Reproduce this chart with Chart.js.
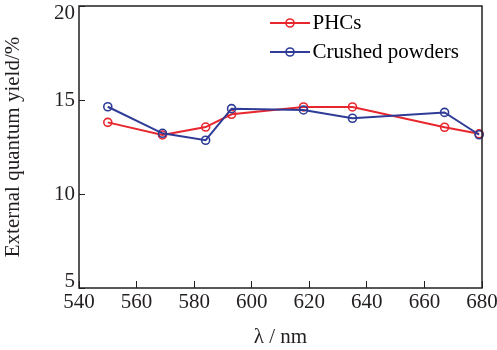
<!DOCTYPE html>
<html>
<head>
<meta charset="utf-8">
<script src="https://cdn.jsdelivr.net/npm/chart.js@4/dist/chart.umd.min.js"></script>
<style>
  body { margin: 0; background: #fff; }
</style>
</head>
<body>
<canvas id="myChart" width="497" height="350"></canvas>
<script>
// values
const wavelength = [550, 569, 584, 593, 618, 635, 667, 679];
const phcs = [13.81, 13.14, 13.56, 14.24, 14.63, 14.63, 13.55, 13.2];
const crushed = [14.64, 13.23, 12.86, 14.54, 14.47, 14.03, 14.34, 13.15];
const series_names = ['PHCs', 'Crushed powders'];
const x_ticks = [540, 560, 580, 600, 620, 640, 660, 680];
const y_ticks = [5, 10, 15, 20];

const red = '#e8262d';
const blue = '#2e3c97';
const ink = '#231f20';
const serif = 'Liberation Serif, DejaVu Serif, serif';

function toPoints(ys) {
    return wavelength.map((x, i) => ({x: x, y: ys[i]}));
}

// little line + circle mark for the legend
function legendMark(color) {
    const c = document.createElement('canvas');
    c.width = 48;
    c.height = 12;
    const g = c.getContext('2d');
    g.strokeStyle = color;
    g.lineWidth = 2;
    g.beginPath(); g.moveTo(8, 6); g.lineTo(48, 6); g.stroke();
    g.lineWidth = 1.6;
    g.beginPath(); g.arc(28, 6, 4, 0, Math.PI * 2); g.stroke();
    return c;
}

// box around the plot
const frame = {
    id: 'frame',
    afterDatasetsDraw(chart) {
        const a = chart.chartArea;
        const ctx = chart.ctx;
        ctx.save();
        ctx.strokeStyle = ink;
        ctx.lineWidth = 1.5;
        ctx.strokeRect(a.left, a.top, a.right - a.left, a.bottom - a.top);
        ctx.restore();
    }
};

// move the legend to the upper right of the plot
const legendPlace = {
    id: 'legendPlace',
    afterLayout(chart) {
        const lg = chart.legend;
        const w = lg.right - lg.left;
        lg.left = 262;
        lg.right = lg.left + w;
        lg.top = 4.5;
        lg.bottom = chart.chartArea.bottom;
        lg.height = lg.bottom - lg.top;
    }
};

const marks = [legendMark(red), legendMark(blue)];

var context = document.getElementById('myChart').getContext('2d');
var myChart = new Chart(context, {
    type: 'line',
    data: {
        datasets: [{
            label: series_names[0],
            data: toPoints(phcs),
            borderColor: red,
            borderWidth: 2,
            pointRadius: 4,
            pointBorderWidth: 1.6,
            pointBorderColor: red,
            pointBackgroundColor: 'rgba(0,0,0,0)',
            tension: 0,
            clip: false,
            order: 2
        }, {
            label: series_names[1],
            data: toPoints(crushed),
            borderColor: blue,
            borderWidth: 2,
            pointRadius: 4,
            pointBorderWidth: 1.6,
            pointBorderColor: blue,
            pointBackgroundColor: 'rgba(0,0,0,0)',
            tension: 0,
            clip: false,
            order: 1
        }]
    },
    options: {
        responsive: false,
        animation: false,
        layout: {padding: {left: 0, top: 6, right: 15, bottom: 0}},
        plugins: {
            tooltip: {enabled: false},
            legend: {
                position: 'chartArea',
                align: 'start',
                labels: {
                    usePointStyle: true,
                    pointStyleWidth: 32,
                    padding: 8,
                    color: ink,
                    font: {family: serif, size: 21},
                    generateLabels: () => series_names.map((name, i) => ({
                        text: name,
                        pointStyle: marks[i],
                        fillStyle: 'rgba(0,0,0,0)',
                        strokeStyle: 'rgba(0,0,0,0)',
                        lineWidth: 0,
                        hidden: false,
                        datasetIndex: i
                    }))
                }
            }
        },
        scales: {
            x: {
                type: 'linear',
                min: x_ticks[0],
                max: x_ticks[x_ticks.length - 1],
                afterBuildTicks: (scale) => { scale.ticks = x_ticks.map(v => ({value: v})); },
                afterFit: (scale) => { scale.height = 62; scale.paddingLeft = 0; scale.paddingRight = 0; },
                border: {display: false},
                grid: {display: true, drawOnChartArea: false, drawTicks: true, tickLength: -7, color: ink, lineWidth: 1},
                ticks: {padding: 9, color: ink, maxRotation: 0, font: {family: serif, size: 21}},
                title: {
                    display: true,
                    text: 'λ / nm',
                    color: ink,
                    padding: {top: 0, bottom: 0},
                    font: {family: serif, size: 21}
                }
            },
            y: {
                type: 'linear',
                min: y_ticks[0],
                max: y_ticks[y_ticks.length - 1],
                afterBuildTicks: (scale) => { scale.ticks = y_ticks.map(v => ({value: v})); },
                afterFit: (scale) => { scale.width = 79; scale.paddingTop = 0; scale.paddingBottom = 0; },
                border: {display: false},
                grid: {display: true, drawOnChartArea: false, drawTicks: true, tickLength: -6, color: ink, lineWidth: 1},
                ticks: {
                    padding: 10,
                    color: ink,
                    font: {family: serif, size: 21, lineHeight: '14px'},
                    // nudge the end labels inside like the figure
                    callback: (v) => v === y_ticks[y_ticks.length - 1] ? ['', String(v)]
                        : v === y_ticks[0] ? [String(v), ''] : String(v)
                },
                title: {
                    display: true,
                    text: 'External quantum yield/%',
                    color: ink,
                    padding: {top: 1, bottom: 0},
                    font: {family: serif, size: 21}
                }
            }
        }
    },
    plugins: [frame, legendPlace]
});
</script>
</body>
</html>
